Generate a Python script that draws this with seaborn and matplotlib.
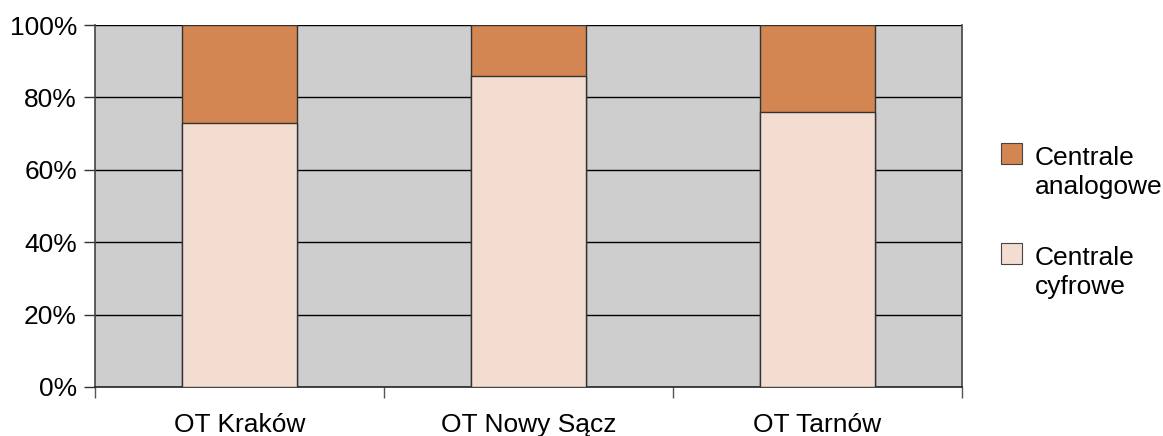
import matplotlib
matplotlib.use("Agg")
import matplotlib.pyplot as plt
from matplotlib.patches import Rectangle
from matplotlib.ticker import FixedLocator, PercentFormatter
import seaborn as sns
import pandas as pd

regions = ["OT Kraków", "OT Nowy Sącz", "OT Tarnów"]
digital = [73, 86, 76]
analog = [27, 14, 24]
series_labels = ["Centrale\nanalogowe", "Centrale\ncyfrowe"]
y_ticks = [0, 20, 40, 60, 80, 100]

color_analog = "#D38552"
color_digital = "#F2DDD0"
color_bg = "#CECECE"

sns.set_theme(style="white")
plt.rcParams["font.family"] = ["Liberation Sans", "DejaVu Sans"]
plt.rcParams["text.color"] = "black"
plt.rcParams["xtick.color"] = "black"
plt.rcParams["ytick.color"] = "black"

df = pd.DataFrame({
    "region": regions,
    "digital": digital,
    "total": [d + a for d, a in zip(digital, analog)],
})

W, H = 1163, 436
fig = plt.figure(figsize=(W / 100, H / 100), dpi=100)
ax = fig.add_axes([95 / W, 1 - 387 / H, (962 - 95) / W, (387 - 25) / H])
ax.set_facecolor(color_bg)

# stacked bars: full height in the analog colour, digital share drawn over it
sns.barplot(data=df, x="region", y="total", color=color_analog, width=0.4,
            edgecolor="#333333", linewidth=1.0, saturation=1, ax=ax, zorder=3)
sns.barplot(data=df, x="region", y="digital", color=color_digital, width=0.4,
            edgecolor="#333333", linewidth=1.0, saturation=1, ax=ax, zorder=4)

ax.set_ylim(0, 100)
ax.set_xlim(-0.5, 2.5)
ax.yaxis.set_major_locator(FixedLocator(y_ticks))
ax.yaxis.set_major_formatter(PercentFormatter(decimals=0))
for y in y_ticks[1:]:
    ax.axhline(y, color="black", linewidth=1.0, zorder=2)

ax.set_xlabel("")
ax.set_ylabel("")
ax.tick_params(axis="y", direction="out", length=8, width=1, color="#333333",
               labelsize=19, labelcolor="black", pad=5, left=True)
ax.tick_params(axis="x", which="major", length=0, labelsize=19,
               labelcolor="black", pad=19)
ax.xaxis.set_minor_locator(FixedLocator([-0.5, 0.5, 1.5, 2.5]))
ax.tick_params(axis="x", which="minor", direction="out", length=8, width=1,
               color="#555555", bottom=True)

ax.spines["top"].set_visible(False)
ax.spines["right"].set_color("#444444")
ax.spines["left"].set_color("#444444")
ax.spines["bottom"].set_color("#222222")
for side in ["left", "right", "bottom"]:
    ax.spines[side].set_linewidth(1.2)

# legend: swatch aligned with the first line of each two-line label
legend_colors = [color_analog, color_digital]
swatch_tops = [143, 243]
for label, color, top in zip(series_labels, legend_colors, swatch_tops):
    fig.add_artist(Rectangle((1001 / W, 1 - (top + 21) / H), 21 / W, 21 / H,
                             transform=fig.transFigure, facecolor=color,
                             edgecolor="#444444", linewidth=0.8))
    for i, line in enumerate(label.split("\n")):
        baseline = top + 22 + 29 * i
        fig.text(1035 / W, 1 - baseline / H, line, fontsize=19,
                 color="black", ha="left", va="baseline")

fig.savefig("out.png", dpi=100)
